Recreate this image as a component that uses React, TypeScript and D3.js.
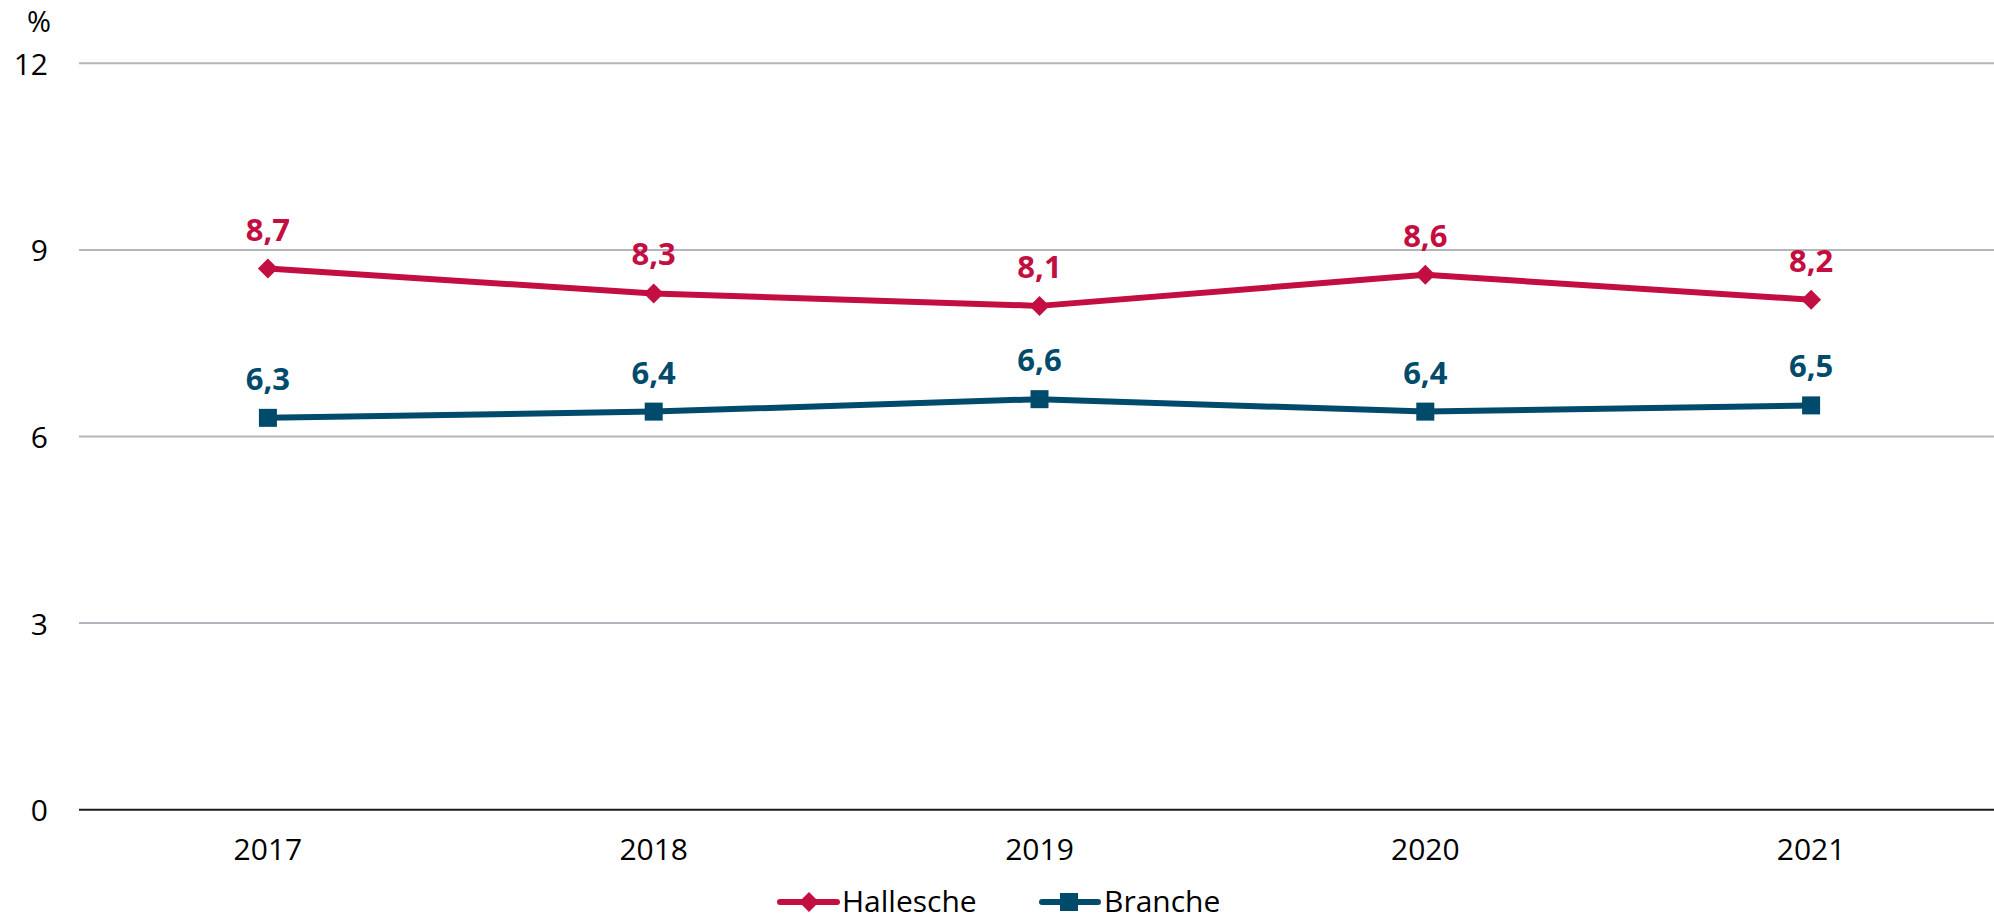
import React from 'react';
import * as d3 from 'd3';

const years: string[] = ['2017', '2018', '2019', '2020', '2021'];
const hallesche: number[] = [8.7, 8.3, 8.1, 8.6, 8.2];
const branche: number[] = [6.3, 6.4, 6.6, 6.4, 6.5];
const yTicks: number[] = [0, 3, 6, 9, 12];
const seriesNames: string[] = ['Hallesche', 'Branche'];
const unitLabel = '%';

const RED = '#C20E41';
const BLUE = '#004A6B';
const FONT = '"Open Sans", "Noto Sans", sans-serif';

const de = d3.formatLocale({ decimal: ',', thousands: '.', grouping: [3], currency: ['', ' €'] });
const fmt = de.format('.1f');

export default function App() {
  const W = 1994;
  const H = 922;
  const x = d3.scaleBand<string>().domain(years).range([75, 2004]);
  const cx = (i: number) => (x(years[i]) as number) + x.bandwidth() / 2;
  const y = d3.scaleLinear().domain([0, 12]).range([809.7, 63.3]);
  const left = 79;

  const lineGen = d3
    .line<number>()
    .x((_, i) => cx(i))
    .y((d) => y(d));

  const diamond = (px: number, py: number, r: number) =>
    `M${px},${py - r}L${px + r},${py}L${px},${py + r}L${px - r},${py}Z`;

  const series = [
    { name: seriesNames[0], values: hallesche, color: RED, marker: 'diamond' },
    { name: seriesNames[1], values: branche, color: BLUE, marker: 'square' },
  ];

  const legendItems = [
    { name: seriesNames[0], color: RED, marker: 'diamond', x0: 780, x1: 837, mx: 809, tx: 842 },
    { name: seriesNames[1], color: BLUE, marker: 'square', x0: 1042, x1: 1098, mx: 1069, tx: 1104 },
  ];
  const legendY = 902;

  return (
    <svg
      width={W}
      height={H}
      style={{ position: 'absolute', left: 0, top: 0, display: 'block', background: '#fff' }}
      fontFamily={FONT}
    >
      {/* gridlines */}
      {yTicks.map((t) => (
        <line
          key={t}
          x1={left}
          x2={W}
          y1={y(t)}
          y2={y(t)}
          stroke={t === 0 ? '#1a1a1a' : '#b4b5bc'}
          strokeWidth={2}
        />
      ))}
      {/* y tick labels */}
      {yTicks.map((t) => (
        <text
          key={'l' + t}
          x={48}
          y={y(t)}
          textAnchor="end"
          dominantBaseline="central"
          fontSize={30}
          fill="#000"
        >
          {t}
        </text>
      ))}
      <text x={39} y={32} textAnchor="middle" fontSize={29} fill="#000">
        {unitLabel}
      </text>
      {/* x tick labels */}
      {years.map((yr, i) => (
        <text key={yr} x={cx(i)} y={860} textAnchor="middle" fontSize={30} fill="#000">
          {yr}
        </text>
      ))}
      {/* series */}
      {series.map((s) => (
        <g key={s.name}>
          <path d={lineGen(s.values) as string} fill="none" stroke={s.color} strokeWidth={6} strokeLinejoin="round" />
          {s.values.map((v, i) =>
            s.marker === 'diamond' ? (
              <path key={i} d={diamond(cx(i), y(v), 10)} fill={s.color} />
            ) : (
              <rect key={i} x={cx(i) - 9} y={y(v) - 9} width={18} height={18} fill={s.color} />
            )
          )}
          {s.values.map((v, i) => (
            <text
              key={'t' + i}
              x={cx(i)}
              y={y(v) - 28}
              textAnchor="middle"
              fontSize={31}
              fontWeight={700}
              fill={s.color}
            >
              {fmt(v)}
            </text>
          ))}
        </g>
      ))}
      {/* legend */}
      {legendItems.map((l) => (
        <g key={l.name}>
          <line x1={l.x0} x2={l.x1} y1={legendY} y2={legendY} stroke={l.color} strokeWidth={6} strokeLinecap="round" />
          {l.marker === 'diamond' ? (
            <path d={diamond(l.mx, legendY, 10)} fill={l.color} />
          ) : (
            <rect x={l.mx - 9} y={legendY - 9} width={18} height={18} fill={l.color} />
          )}
          <text x={l.tx} y={legendY + 10} fontSize={30} fill="#000">
            {l.name}
          </text>
        </g>
      ))}
    </svg>
  );
}
